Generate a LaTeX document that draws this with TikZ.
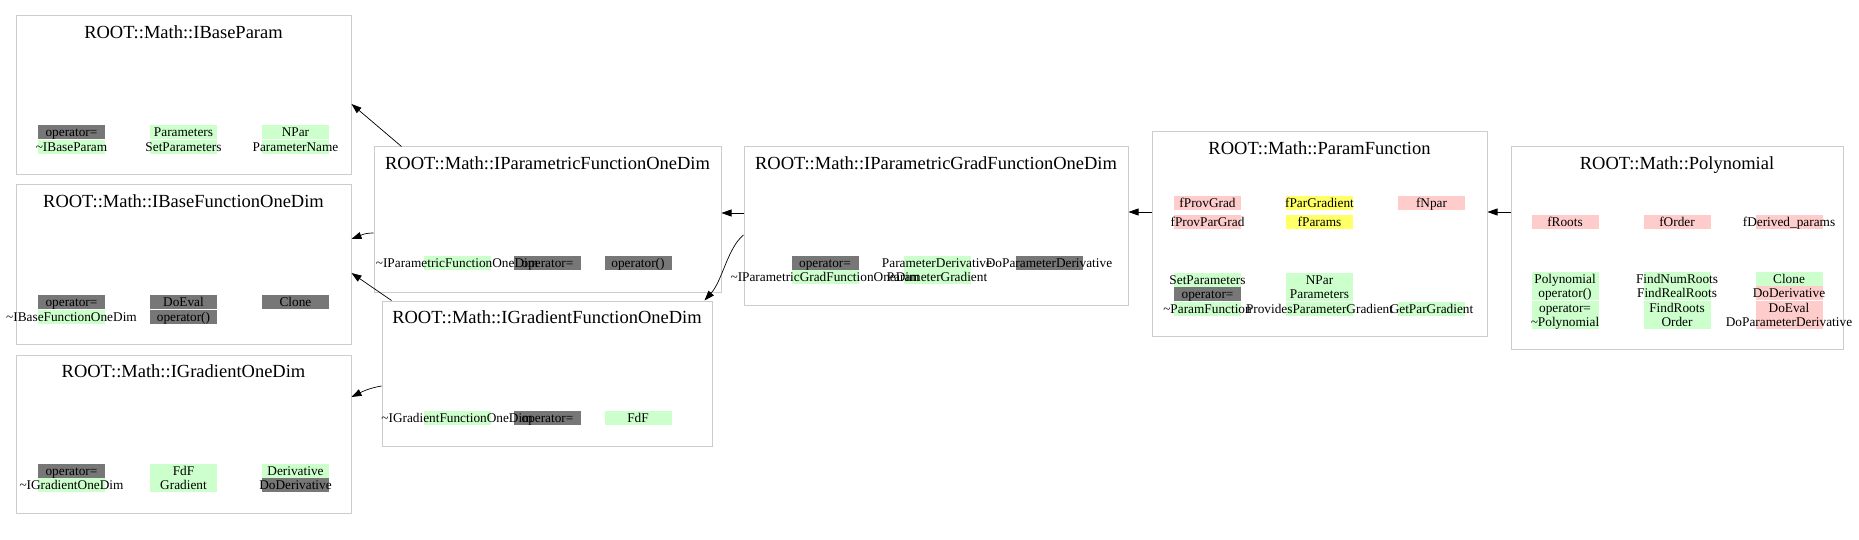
\documentclass[tikz,border=0pt]{standalone}
\usepackage{fontspec}
\setmainfont{Liberation Serif}
\usetikzlibrary{arrows.meta}
\pgfdeclarelayer{fg}
\pgfsetlayers{main,fg}
\definecolor{cgray}{HTML}{777777}
\definecolor{cgreen}{HTML}{CCFFCC}
\definecolor{cpink}{HTML}{FFCCCC}
\definecolor{cyellow}{HTML}{FFFF66}
\definecolor{cborder}{HTML}{CCCCCC}
\tikzset{
  classbox/.style={draw=cborder, line width=1pt, inner sep=0pt, rectangle},
  titletext/.style={inner sep=0pt, anchor=base, font=\fontsize{18.5}{20}\selectfont},
  cellfill/.style={inner sep=0pt, minimum width=67pt, minimum height=14pt, draw=none},
  celltext/.style={inner sep=0pt, anchor=base, font=\fontsize{13.3}{15}\selectfont},
  arr/.style={line width=0.7pt, -{Triangle[length=10pt,width=7pt]}}
}
\newcommand\cellbox[5]{%
  \node[cellfill, fill=#4] (#1) at (#2,#3) {};
  \begin{pgfonlayer}{fg}\node[celltext] (#1t) at ([yshift=-4.5pt]#1.center) {\makebox[0pt]{#5}};\end{pgfonlayer}
}
\newcommand\tl{\textasciitilde}
\begin{document}
\begin{tikzpicture}[x=1pt,y=-1pt]
\useasboundingbox (0,0) rectangle (1859,540);
% class boxes
\node[classbox, minimum width=335pt, minimum height=159pt] (ibp) at (183.5,95.5) {};
\node[classbox, minimum width=335pt, minimum height=159pt] (ibf) at (183.5,264.5) {};
\node[classbox, minimum width=335pt, minimum height=158pt] (igo) at (183.5,434) {};
\node[classbox, minimum width=347pt, minimum height=145pt] (pfod) at (547.5,219.5) {};
\node[classbox, minimum width=330pt, minimum height=145pt] (gfod) at (547,373.5) {};
\node[classbox, minimum width=384pt, minimum height=158pt] (pgfod) at (936,226) {};
\node[classbox, minimum width=335pt, minimum height=204pt] (pf) at (1319.5,234) {};
\node[classbox, minimum width=332pt, minimum height=202pt] (poly) at (1677,248) {};
% titles
\node[titletext] (ibpT) at ([yshift=-23pt]ibp.north) {ROOT::Math::IBaseParam};
\node[titletext] (ibfT) at ([yshift=-23pt]ibf.north) {ROOT::Math::IBaseFunctionOneDim};
\node[titletext] (igoT) at ([yshift=-23pt]igo.north) {ROOT::Math::IGradientOneDim};
\node[titletext] (pfodT) at ([yshift=-23pt]pfod.north) {ROOT::Math::IParametricFunctionOneDim};
\node[titletext] (gfodT) at ([yshift=-23pt]gfod.north) {ROOT::Math::IGradientFunctionOneDim};
\node[titletext] (pgfodT) at ([yshift=-23pt]pgfod.north) {ROOT::Math::IParametricGradFunctionOneDim};
\node[titletext] (pfT) at ([yshift=-23pt]pf.north) {ROOT::Math::ParamFunction};
\node[titletext] (polyT) at ([yshift=-23pt]poly.north) {ROOT::Math::Polynomial};
% IBaseParam
\cellbox{a1}{71.5}{132}{cgray}{operator=}
\cellbox{a2}{71.5}{147}{cgreen}{\tl IBaseParam}
\cellbox{a3}{183.5}{132}{cgreen}{Parameters}
\cellbox{a4}{183.5}{147}{cgreen}{SetParameters}
\cellbox{a5}{295.5}{132}{cgreen}{NPar}
\cellbox{a6}{295.5}{147}{cgreen}{ParameterName}
% IBaseFunctionOneDim
\cellbox{b1}{71.5}{302}{cgray}{operator=}
\cellbox{b2}{71.5}{316.5}{cgreen}{\tl IBaseFunctionOneDim}
\cellbox{b3}{183.5}{302}{cgray}{DoEval}
\cellbox{b4}{183.5}{316.5}{cgray}{operator()}
\cellbox{b5}{295.5}{302}{cgray}{Clone}
% IGradientOneDim
\cellbox{c1}{71.5}{471}{cgray}{operator=}
\cellbox{c2}{71.5}{485}{cgreen}{\tl IGradientOneDim}
\cellbox{c3}{183.5}{471}{cgreen}{FdF}
\cellbox{c4}{183.5}{485}{cgreen}{Gradient}
\cellbox{c5}{295.5}{471}{cgreen}{Derivative}
\cellbox{c6}{295.5}{485}{cgray}{DoDerivative}
% IParametricFunctionOneDim
\cellbox{d1}{457}{263}{cgreen}{\tl IParametricFunctionOneDim}
\cellbox{d2}{547.5}{263}{cgray}{operator=}
\cellbox{d3}{638}{263}{cgray}{operator()}
% IGradientFunctionOneDim
\cellbox{e1}{457}{418}{cgreen}{\tl IGradientFunctionOneDim}
\cellbox{e2}{547.5}{418}{cgray}{operator=}
\cellbox{e3}{638}{418}{cgreen}{FdF}
% IParametricGradFunctionOneDim
\cellbox{f1}{825}{263}{cgray}{operator=}
\cellbox{f2}{825}{277}{cgreen}{\tl IParametricGradFunctionOneDim}
\cellbox{f3}{937}{263}{cgreen}{ParameterDerivative}
\cellbox{f4}{937}{277}{cgreen}{ParameterGradient}
\cellbox{f5}{1049}{263}{cgray}{DoParameterDerivative}
% ParamFunction
\cellbox{g1}{1207.5}{203}{cpink}{fProvGrad}
\cellbox{g2}{1207.5}{222}{cpink}{fProvParGrad}
\cellbox{g3}{1319.5}{203}{cyellow}{fParGradient}
\cellbox{g4}{1319.5}{222}{cyellow}{fParams}
\cellbox{g5}{1431.5}{203}{cpink}{fNpar}
\cellbox{g6}{1207.5}{279.5}{cgreen}{SetParameters}
\cellbox{g7}{1207.5}{294}{cgray}{operator=}
\cellbox{g8}{1207.5}{308.5}{cgreen}{\tl ParamFunction}
\cellbox{g9}{1319.5}{279.5}{cgreen}{NPar}
\cellbox{g10}{1319.5}{294}{cgreen}{Parameters}
\cellbox{g11}{1319.5}{308.5}{cgreen}{ProvidesParameterGradient}
\cellbox{g12}{1431.5}{308.5}{cgreen}{GetParGradient}
% Polynomial
\cellbox{h1}{1565}{222}{cpink}{fRoots}
\cellbox{h2}{1677}{222}{cpink}{fOrder}
\cellbox{h3}{1789}{222}{cpink}{fDerived\_params}
\cellbox{h4}{1565}{278.5}{cgreen}{Polynomial}
\cellbox{h5}{1565}{293}{cgreen}{operator()}
\cellbox{h6}{1565}{307.5}{cgreen}{operator=}
\cellbox{h7}{1565}{322}{cgreen}{\tl Polynomial}
\cellbox{h8}{1677}{278.5}{cgreen}{FindNumRoots}
\cellbox{h9}{1677}{293}{cgreen}{FindRealRoots}
\cellbox{h10}{1677}{307.5}{cgreen}{FindRoots}
\cellbox{h11}{1677}{322}{cgreen}{Order}
\cellbox{h12}{1789}{278.5}{cgreen}{Clone}
\cellbox{h13}{1789}{293}{cpink}{DoDerivative}
\cellbox{h14}{1789}{307.5}{cpink}{DoEval}
\cellbox{h15}{1789}{322}{cpink}{DoParameterDerivative}
% connectors
\draw[arr] ([xshift=28pt]pfod.north west) -- ([yshift=-8.5pt]ibp.east);
\draw[arr] ([yshift=-13.5pt]pfod.west) .. controls +(-10,0) and +(8,-3) .. ([yshift=25.5pt]ibf.east);
\draw[arr] ([xshift=10pt]gfod.north west) -- ([yshift=-8.5pt]ibf.east);
\draw[arr] ([yshift=-12.5pt]gfod.west) .. controls +(-12,2) and +(10,-5) .. ([yshift=37pt]igo.east);
\draw[arr] ([yshift=13pt]pgfod.west) -- ([yshift=6.5pt]pfod.east);
\draw[arr] ([yshift=-9pt]pgfod.west) .. controls +(-16,13) and +(18,-20) .. ([xshift=-8pt]gfod.north east);
\draw[arr] ([yshift=22pt]pf.west) -- ([yshift=14pt]pgfod.east);
\draw[arr] ([yshift=36pt]poly.west) -- ([yshift=22pt]pf.east);
\end{tikzpicture}
\end{document}
